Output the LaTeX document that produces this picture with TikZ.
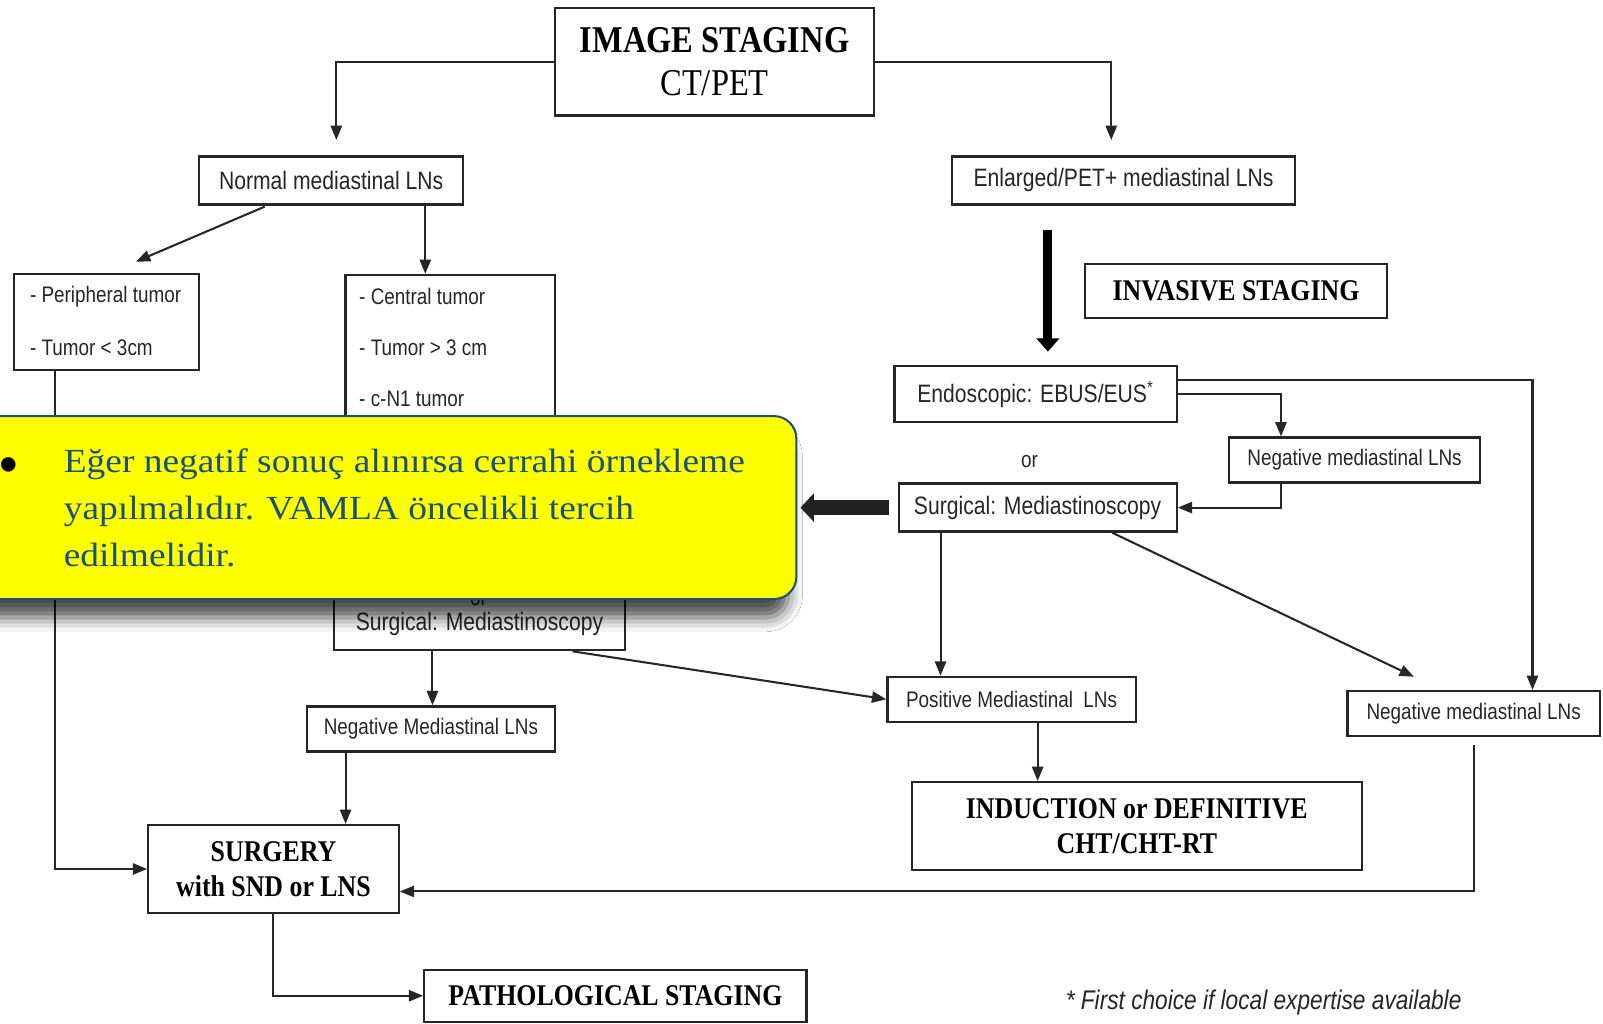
\documentclass[tikz,border=0pt]{standalone}
\usepackage{fontspec}
\setmainfont{Liberation Serif}
\newfontfamily\sansn[FakeStretch=0.84]{Liberation Sans}
\newfontfamily\bulfont{Liberation Sans}
\newfontfamily\serifn[FakeStretch=0.86]{Liberation Serif}
\newfontfamily\callfont[FakeStretch=1.11]{Liberation Serif}
\usetikzlibrary{arrows.meta,calc,shadows.blur}
\definecolor{callblue}{RGB}{25,80,125}
\definecolor{callyellow}{RGB}{255,255,0}
\definecolor{bigarrowc}{RGB}{34,34,34}
\tikzset{
  box/.style={draw=black!85, line width=1.1pt, fill=white, inner sep=0pt},
  sm/.style={font=\sansn\fontsize{11}{13}\selectfont, text=black!85},
  md/.style={font=\sansn\fontsize{12.3}{14}\selectfont, text=black!85},
  bd/.style={font=\serifn\bfseries\fontsize{14.7}{17}\selectfont, align=center},
  txt/.style={inner sep=0pt},
  arr/.style={draw=black!85, line width=1pt, -{Triangle[length=7pt,width=5.5pt]}},
  thickarr/.style={draw=black, line width=4.5pt, -{Triangle[length=6.5pt,width=11pt]}},
  bigarr/.style={draw=bigarrowc, line width=7pt, -{Triangle[length=6.5pt,width=13.5pt]}},
  calltext/.style={font=\callfont\fontsize{16.5}{20}\selectfont, text=callblue, inner sep=0pt},
}
\begin{document}
\begin{tikzpicture}[x=0.5pt,y=-0.5pt]
\useasboundingbox (0,0) rectangle (1568,1001);
\fill[white] (0,0) rectangle (1568,1001);

% ---------- top
\node[box, minimum width=156pt, minimum height=52.5pt,
      font=\serifn\fontsize{18.5}{21}\selectfont, align=center] (img) at (699,60.5)
      {\bfseries IMAGE STAGING\\CT/PET};
\node[box, md, minimum width=129pt, minimum height=23.5pt] (norm) at (324,176.5) {Normal mediastinal LNs};
\node[box, md, minimum width=168pt, minimum height=23.5pt] (enl) at (1099,176.5) {Enlarged/PET+ mediastinal LNs};

% ---------- left branch
\node[box, minimum width=90.5pt, minimum height=47pt] (per) at (104.5,315) {};
\node[sm, txt, anchor=west] (per1) at (29,290) {- Peripheral tumor};
\node[sm, txt, anchor=west] (per2) at (29,340) {- Tumor < 3cm};

\node[box, minimum width=102.5pt, minimum height=90.5pt] (cen) at (440.5,359.5) {};
\node[sm, txt, anchor=west] (cen1) at (351,290) {- Central tumor};
\node[sm, txt, anchor=west] (cen2) at (351,340) {- Tumor > 3 cm};
\node[sm, txt, anchor=west] (cen3) at (351,390) {- c-N1 tumor};

\node[box, minimum width=142pt, minimum height=83pt] (lsurg) at (469,553) {};
\node[sm, txt, anchor=base] (lor) at (468,592) {or};
\node[md, txt] (lsurgt) at (469,610) {Surgical: Mediastinoscopy};

\node[box, sm, minimum width=121.5pt, minimum height=22pt] (lneg) at (421.5,713) {Negative Mediastinal LNs};
\node[box, bd, minimum width=122.5pt, minimum height=43pt] (surg) at (267.5,850) {SURGERY\\with SND or LNS};
\node[box, bd, minimum width=187pt, minimum height=25.5pt] (path) at (602,974) {PATHOLOGICAL STAGING};

% ---------- right branch
\node[box, bd, minimum width=148pt, minimum height=26.5pt] (inv) at (1209,284.5) {INVASIVE STAGING};
\node[box, md, minimum width=138pt, minimum height=27.5pt] (endo) at (1013,385.5) {Endoscopic: EBUS/EUS\textsuperscript{*}};
\node[sm, txt] (or1) at (1007,451) {or};
\node[box, sm, minimum width=123pt, minimum height=22pt] (neg1) at (1325,450) {Negative mediastinal LNs};
\node[box, md, minimum width=136pt, minimum height=23.5pt] (rsurg) at (1015,496.5) {Surgical: Mediastinoscopy};
\node[box, sm, minimum width=121.5pt, minimum height=22pt] (pos) at (989.5,684) {Positive Mediastinal\ \ LNs};
\node[box, sm, minimum width=123.5pt, minimum height=22pt] (neg2) at (1441.5,698) {Negative mediastinal LNs};
\node[box, bd, minimum width=220pt, minimum height=43pt] (ind) at (1112,808) {INDUCTION or DEFINITIVE\\CHT/CHT-RT};
\node[txt, font=\sansn\itshape\fontsize{13.2}{15}\selectfont, text=black!85] (foot) at (1236,981)
     {* First choice if local expertise available};

% ---------- connectors
\draw[arr] (img.west) -| ($(norm.north)+(5,-15)$);
\draw[arr] (img.east) -| ($(enl.north)+(-12,-15)$);
\draw[arr] ($(norm.south)+(-65,1)$) -- ($(per.north)+(28.5,-11)$);
\coordinate (n1) at ($(norm.south)+(92,0)$);
\draw[arr] (n1) -- (n1 |- cen.north);
\coordinate (p1) at ($(per.south)+(-50.5,0)$);
\draw[arr] (p1) |- (surg.west);
\coordinate (l1) at ($(lsurg.south)+(-46,0)$);
\draw[arr] (l1) -- (l1 |- lneg.north);
\draw[arr] ($(lsurg.south)+(91,0)$) -- (pos.west);
\coordinate (l2) at ($(lneg.south)+(-83.5,0)$);
\draw[arr] (l2) -- (l2 |- surg.north);
\draw[arr] (surg.south) |- (path.west);

\coordinate (e1) at ($(enl.south)+(-74,24)$);
\draw[thickarr, shorten >=6.5pt] (e1) -- (e1 |- endo.north);
\coordinate (k1) at ($(neg1.north)+(-72,0)$);
\draw[arr] (endo.east) -| (k1);
\coordinate (k2) at ($(neg2.north)+(57.5,0)$);
\draw[arr] ($(endo.east)+(0,-14)$) -| (k2);
\draw[arr] (k1 |- neg1.south) |- (rsurg.east);
\coordinate (r1) at ($(rsurg.south)+(-95,0)$);
\draw[arr] (r1) -- (r1 |- pos.north);
\draw[arr] ($(rsurg.south)+(73,0)$) -- ($(neg2.north)+(-58.5,-13)$);
\coordinate (q1) at ($(pos.south)+(25.5,0)$);
\draw[arr] (q1) -- (q1 |- ind.north);
\coordinate (s2) at ($(surg.east)+(0,22)$);
\draw[arr] ($(neg2.south)+(0,8)$) |- (s2);

% ---------- callout
\node[draw=callblue, line width=1pt, fill=callyellow, rounded corners=11pt,
      minimum width=409.5pt, minimum height=89.5pt, inner sep=0pt,
      blur shadow={shadow xshift=-4pt, shadow yshift=-9pt, shadow blur radius=7pt, shadow opacity=70}]
      (callout) at (369.5,496.5) {};
\node[font=\bulfont\fontsize{26}{28}\selectfont, text=black, anchor=base, inner sep=0pt] (bul) at (9,472) {•};
\node[calltext, anchor=base west] (c1) at (62,462) {Eğer negatif sonuç alınırsa cerrahi örnekleme};
\node[calltext, anchor=base west] (c2) at (62,508) {yapılmalıdır. VAMLA öncelikli tercih};
\node[calltext, anchor=base west] (c3) at (62,554) {edilmelidir.};

\draw[bigarr, shorten <=4pt, shorten >=1.5pt] (rsurg.west) -- (rsurg.west -| callout.east);
\end{tikzpicture}
\end{document}
